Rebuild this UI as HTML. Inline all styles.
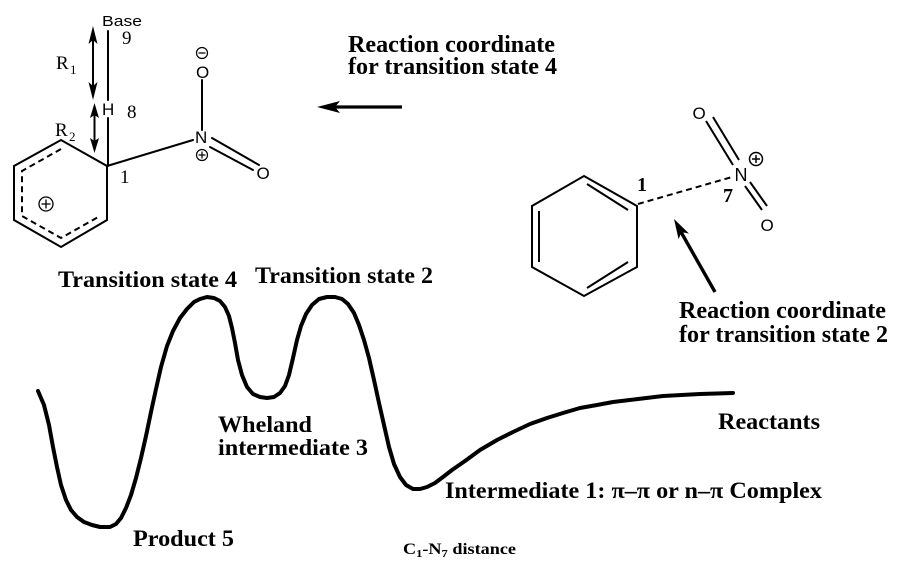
<!DOCTYPE html>
<html><head><meta charset="utf-8"><style>
html,body{margin:0;padding:0;background:#fff;}
svg{display:block;}
.b{font-family:"Liberation Serif",serif;font-weight:bold;fill:#000;}
.s{font-family:"Liberation Sans",sans-serif;fill:#000;}
.r{font-family:"Liberation Serif",serif;fill:#000;}
</style></head><body>
<svg width="906" height="588" viewBox="0 0 906 588" xmlns="http://www.w3.org/2000/svg">
<rect width="906" height="588" fill="#fff"/>

<!-- Left molecule (Wheland) -->
<g stroke="#000" stroke-width="2" fill="none" stroke-linecap="round">
  <line x1="108" y1="31" x2="108" y2="100"/>
  <line x1="108" y1="118" x2="108" y2="166"/>
  <polygon points="61,140 14,166 14,220 61,247 107,220 107,166"/>
  <polyline points="61,149 22,171 22,216 61,238 100,216" stroke-dasharray="6,4" stroke-linecap="butt"/>
  <circle cx="46" cy="204" r="7" stroke-width="1.3"/>
  <line x1="42" y1="204" x2="50" y2="204" stroke-width="1.3"/>
  <line x1="46" y1="200" x2="46" y2="208" stroke-width="1.3"/>
  <line x1="107" y1="166" x2="193" y2="140"/>
  <line x1="202" y1="80" x2="202" y2="130"/>
  <line x1="212" y1="138" x2="259" y2="165"/>
  <line x1="210" y1="147" x2="253" y2="170"/>
  <circle cx="202" cy="155" r="5.5" stroke-width="1.2"/>
  <line x1="199" y1="155" x2="205" y2="155" stroke-width="1.2"/>
  <line x1="202" y1="152" x2="202" y2="158" stroke-width="1.2"/>
  <circle cx="202" cy="53" r="5.5" stroke-width="1.2"/>
  <line x1="199" y1="53" x2="205" y2="53" stroke-width="1.2"/>
</g>
<!-- double arrows R1, R2 -->
<g fill="#000" stroke="none">
  <polygon points="93,26 88.5,44 93,40 97.5,44"/>
  <polygon points="93,100 88.5,82 93,86 97.5,82"/>
  <polygon points="94.5,103 90,118 94.5,115 99,118"/>
  <polygon points="94.5,153 90,138 94.5,141 99,138"/>
</g>
<g stroke="#000" stroke-width="2">
  <line x1="93" y1="40" x2="93" y2="86"/>
  <line x1="94.5" y1="115" x2="94.5" y2="141"/>
</g>
<text class="s" x="102" y="26" font-size="15" textLength="40" lengthAdjust="spacingAndGlyphs">Base</text>
<text class="r" x="122" y="44" font-size="19">9</text>
<text class="s" x="102" y="115" font-size="17">H</text>
<text class="r" x="127" y="118" font-size="19">8</text>
<text class="r" x="56" y="69" font-size="19">R</text>
<text class="r" x="70" y="74" font-size="13">1</text>
<text class="r" x="55" y="136" font-size="19">R</text>
<text class="r" x="69" y="141" font-size="13">2</text>
<text class="r" x="120" y="183" font-size="19">1</text>
<text class="s" x="195" y="143" font-size="17">N</text>
<text class="s" x="196" y="78" font-size="17">O</text>
<text class="s" x="256.5" y="179" font-size="17">O</text>

<!-- Arrow for TS4 -->
<polygon points="317,107 340,101 335,107 340,113" fill="#000"/>
<line x1="335" y1="107" x2="402" y2="107" stroke="#000" stroke-width="3.2"/>
<text class="b" x="348" y="52" font-size="24" textLength="207" lengthAdjust="spacingAndGlyphs">Reaction coordinate</text>
<text class="b" x="348" y="74" font-size="24" textLength="209" lengthAdjust="spacingAndGlyphs">for transition state 4</text>

<!-- Right molecule -->
<g stroke="#000" stroke-width="2" fill="none">
  <polygon points="584,176 637,206 637,267 584,296 532,267 532,206"/>
  <line x1="587" y1="184" x2="628" y2="210"/>
  <line x1="539" y1="211" x2="539" y2="262"/>
  <line x1="587" y1="288" x2="628" y2="262"/>
  <line x1="638" y1="204" x2="732" y2="177" stroke-dasharray="6,4"/>
  <line x1="706" y1="121" x2="733" y2="165"/>
  <line x1="713" y1="117" x2="739" y2="160"/>
  <line x1="745" y1="186" x2="762" y2="210"/>
  <line x1="750" y1="182" x2="767" y2="206"/>
  <circle cx="756" cy="159" r="6.5" stroke-width="1.5"/>
  <line x1="752" y1="159" x2="760" y2="159" stroke-width="1.5"/>
  <line x1="756" y1="155" x2="756" y2="163" stroke-width="1.5"/>
</g>
<text class="s" x="734.5" y="181" font-size="18">N</text>
<text class="s" x="692.5" y="119" font-size="17">O</text>
<text class="s" x="760.5" y="231" font-size="17">O</text>
<text class="b" x="637" y="191" font-size="20">1</text>
<text class="b" x="723" y="202" font-size="20">7</text>

<!-- Arrow for TS2 -->
<polygon points="674,219 689,233.5 681.4,232.1 678.6,239.3" fill="#000"/>
<line x1="681" y1="232" x2="715" y2="292" stroke="#000" stroke-width="3.4"/>
<text class="b" x="679" y="318" font-size="24" textLength="207" lengthAdjust="spacingAndGlyphs">Reaction coordinate</text>
<text class="b" x="679" y="342" font-size="24" textLength="209" lengthAdjust="spacingAndGlyphs">for transition state 2</text>

<!-- Energy curve -->
<polyline fill="none" stroke="#000" stroke-width="4" stroke-linejoin="round" stroke-linecap="round"
points="38,391 44,405 49,425 53,447 57,467 61,485 66,500 71,510 77,517 84,522 92,525 100,527 110,527 116,524 121,518 126,508 131,495 136,478 141,458 146,436 151,412 156,389 161,367 167,346 173,331 180,318 187,309 194,302 200,299 207,297 214,298 220,301 225,307 229,316 232,328 235,343 238,360 242,375 247,387 253,394 260,397 267,398 274,397 280,393 285,386 289,375 293,358 297,340 301,326 306,314 312,305 319,299 327,297 335,297 342,299 348,304 354,313 359,325 364,340 369,358 374,380 379,403 384,425 389,447 394,464 400,477 406,485 413,489 420,489 427,487 435,483 443,477 452,470 465,461 480,450 497,440 513,432 530,424 547,418 563,413 580,408 597,405 613,402 638,399 663,396 700,394 733,393"/>

<text class="b" x="58" y="287" font-size="23" textLength="179" lengthAdjust="spacingAndGlyphs">Transition state 4</text>
<text class="b" x="255" y="283" font-size="23" textLength="178" lengthAdjust="spacingAndGlyphs">Transition state 2</text>
<text class="b" x="218" y="432" font-size="23" textLength="94" lengthAdjust="spacingAndGlyphs">Wheland</text>
<text class="b" x="218" y="455" font-size="23" textLength="150" lengthAdjust="spacingAndGlyphs">intermediate 3</text>
<text class="b" x="133" y="546" font-size="23" textLength="101" lengthAdjust="spacingAndGlyphs">Product 5</text>
<text class="b" x="718" y="429" font-size="23" textLength="102" lengthAdjust="spacingAndGlyphs">Reactants</text>
<text class="b" x="445" y="498" font-size="23" textLength="377" lengthAdjust="spacingAndGlyphs">Intermediate 1: π–π or n–π Complex</text>
<text class="b" x="403" y="554" font-size="16" textLength="113" lengthAdjust="spacingAndGlyphs">C<tspan font-size="11" dy="3">1</tspan><tspan dy="-3">-N</tspan><tspan font-size="11" dy="3">7</tspan><tspan dy="-3"> distance</tspan></text>
</svg>
</body></html>
